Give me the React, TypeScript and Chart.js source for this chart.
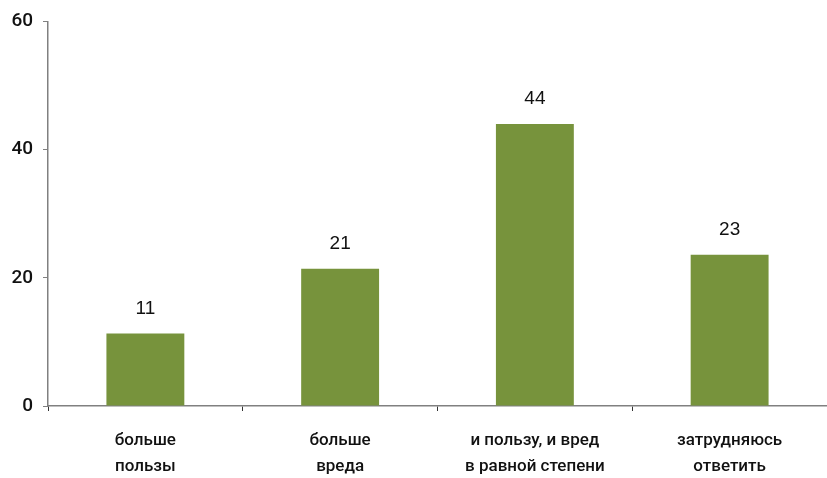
import React, { useEffect, useRef } from "react";
import { Chart, registerables } from "chart.js";

Chart.register(...registerables);

const categories: string[][] = [
  ["больше", "пользы"],
  ["больше", "вреда"],
  ["и пользу, и вред", "в равной степени"],
  ["затрудняюсь", "ответить"],
];
const values: number[] = [11.3, 21.4, 44.0, 23.6];
const valueLabels: string[] = ["11", "21", "44", "23"];
const yTicks: number[] = [0, 20, 40, 60];

const valueLabelPlugin = {
  id: "valueLabels",
  afterDatasetsDraw(chart: any) {
    const ctx = chart.ctx;
    const meta = chart.getDatasetMeta(0);
    ctx.save();
    ctx.font = "19px 'Liberation Sans', Arial, sans-serif";
    ctx.fillStyle = "#111111";
    ctx.textAlign = "center";
    ctx.textBaseline = "middle";
    meta.data.forEach((bar: any, i: number) => {
      ctx.fillText(valueLabels[i], bar.x, bar.y - 25);
    });
    ctx.restore();
  },
};

export default function App() {
  const ref = useRef<HTMLCanvasElement>(null);
  useEffect(() => {
    if (!ref.current) return;
    const chart = new Chart(ref.current, {
      type: "bar",
      data: {
        labels: categories,
        datasets: [
          {
            data: values,
            backgroundColor: "#77933C",
            borderWidth: 0,
            categoryPercentage: 1,
            barPercentage: 0.4,
          },
        ],
      },
      options: {
        animation: false,
        responsive: false,
        maintainAspectRatio: false,
        layout: { padding: { top: 19, right: 0, left: 0, bottom: 0 } },
        plugins: { legend: { display: false }, tooltip: { enabled: false } },
        scales: {
          x: {
            offset: true,
            grid: {
              display: true,
              drawOnChartArea: false,
              drawTicks: true,
              tickLength: 5,
              color: "#333333",
              offset: true,
            },
            border: { color: "#808080", width: 1.5 },
            ticks: {
              font: { family: "Roboto, 'Noto Sans', sans-serif", size: 17, weight: "500", lineHeight: "26px" },
              color: "#111111",
              padding: 17,
              maxRotation: 0,
              autoSkip: false,
            },
            afterFit(scale: any) {
              scale.height = 72;
            },
          },
          y: {
            min: 0,
            max: 60,
            afterBuildTicks(scale: any) {
              scale.ticks = yTicks.map((v) => ({ value: v }));
            },
            grid: {
              display: true,
              drawOnChartArea: false,
              drawTicks: true,
              tickLength: 5,
              color: "#808080",
            },
            border: { color: "#808080", width: 1.5 },
            ticks: {
              font: { family: "Roboto, 'Noto Sans', sans-serif", size: 19, weight: "500" },
              color: "#111111",
              padding: 10,
            },
            afterFit(scale: any) {
              scale.width = 48;
            },
          },
        },
      },
      plugins: [valueLabelPlugin],
    });
    return () => chart.destroy();
  }, []);
  return (
    <div style={{ position: "fixed", left: 0, top: 0, width: 827, height: 478, background: "#fff" }}>
      <canvas ref={ref} width={827} height={478} style={{ width: 827, height: 478 }} />
    </div>
  );
}
